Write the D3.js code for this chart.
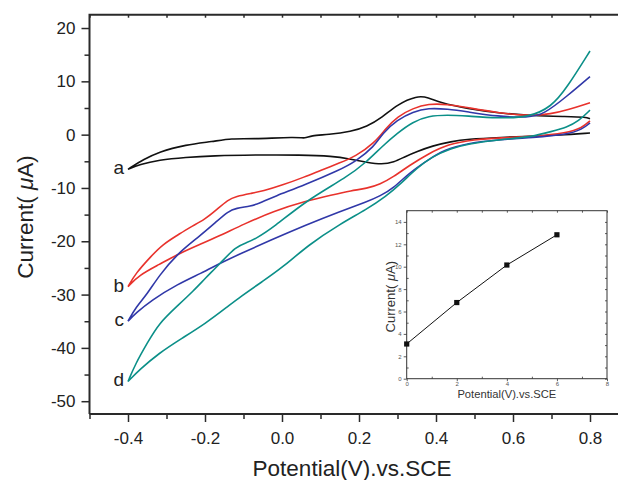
<!DOCTYPE html>
<html>
<head>
<meta charset="utf-8">
<script src="https://cdn.jsdelivr.net/npm/d3@7"></script>
<style>
  body { margin: 0; background: #fff; }
  svg { display: block; font-family: "Liberation Sans", Arial, sans-serif; }
</style>
</head>
<body>
<div id="chart"></div>
<script>
// CV loops: cathodic branch 0.8 -> -0.4, then anodic branch -0.4 -> 0.8  [potential V, current uA]
const cvA = [[0.8,0.3],[0.72,-0.1],[0.65,-0.3],[0.57,-0.5],[0.48,-0.85],[0.44,-1.3],[0.39,-2.1],[0.35,-3.2],[0.32,-4.1],[0.29,-5.2],[0.26,-5.6],[0.22,-5.2],[0.18,-4.6],[0.13,-4.0],[0.05,-3.8],[-0.07,-3.8],[-0.18,-3.95],[-0.25,-4.25],[-0.32,-4.75],[-0.37,-5.6],[-0.4,-6.5],
  [-0.39,-6.0],[-0.36,-4.7],[-0.32,-3.2],[-0.25,-1.9],[-0.18,-1.3],[-0.13,-0.7],[-0.08,-0.85],[0.04,-0.4],[0.06,-0.75],[0.075,-0.15],[0.12,0.0],[0.18,0.6],[0.22,1.5],[0.26,3.2],[0.3,5.7],[0.35,7.3],[0.38,7.0],[0.41,6.0],[0.48,4.9],[0.57,4.0],[0.65,3.55],[0.74,3.4],[0.79,3.3],[0.8,3.0]];
const cvB = [[0.8,2.6],[0.78,1.3],[0.74,0.3],[0.65,-0.35],[0.57,-0.6],[0.5,-0.9],[0.43,-1.8],[0.38,-3.6],[0.33,-5.8],[0.29,-7.9],[0.255,-9.3],[0.22,-10.1],[0.18,-10.5],[0.13,-11.3],[0.06,-12.5],[-0.02,-14.3],[-0.1,-16.8],[-0.16,-18.9],[-0.22,-20.8],[-0.27,-22.4],[-0.32,-24.4],[-0.37,-26.3],[-0.4,-28.5],
  [-0.38,-26.0],[-0.34,-22.8],[-0.31,-20.6],[-0.27,-18.8],[-0.24,-17.4],[-0.2,-15.9],[-0.17,-14.1],[-0.14,-12.2],[-0.12,-11.6],[-0.08,-11.0],[-0.05,-10.6],[0.0,-9.5],[0.06,-7.9],[0.1,-6.7],[0.15,-5.3],[0.19,-4.1],[0.24,-1.6],[0.27,1.2],[0.3,3.4],[0.34,4.95],[0.38,5.8],[0.43,5.7],[0.48,5.1],[0.56,4.1],[0.64,3.5],[0.7,3.9],[0.74,4.6],[0.8,6.0]];
const cvC = [[0.8,2.2],[0.78,1.0],[0.74,0.0],[0.65,-0.55],[0.57,-0.9],[0.48,-1.6],[0.42,-2.9],[0.38,-4.7],[0.33,-7.2],[0.29,-10.0],[0.255,-11.5],[0.22,-12.6],[0.15,-14.4],[0.06,-17.0],[-0.03,-19.8],[-0.11,-22.4],[-0.16,-24.1],[-0.21,-26.0],[-0.27,-28.0],[-0.34,-31.1],[-0.38,-33.5],[-0.4,-35.0],
  [-0.38,-32.4],[-0.35,-29.9],[-0.32,-26.5],[-0.27,-22.2],[-0.22,-19.4],[-0.17,-16.3],[-0.14,-14.4],[-0.12,-13.8],[-0.08,-13.4],[-0.06,-12.9],[-0.02,-11.6],[0.06,-9.4],[0.15,-6.6],[0.19,-5.1],[0.24,-2.2],[0.26,0.2],[0.3,2.8],[0.34,4.3],[0.38,5.0],[0.43,4.8],[0.48,4.3],[0.56,3.4],[0.64,3.2],[0.68,3.8],[0.74,7.2],[0.8,10.9]];
const cvD = [[0.8,4.6],[0.77,2.5],[0.74,1.4],[0.7,0.6],[0.65,-0.4],[0.57,-0.9],[0.48,-1.75],[0.44,-2.6],[0.39,-4.1],[0.35,-6.3],[0.31,-9.1],[0.27,-11.6],[0.22,-14.0],[0.15,-16.8],[0.07,-20.6],[0.0,-25.0],[-0.05,-27.5],[-0.11,-30.5],[-0.14,-32.2],[-0.2,-35.5],[-0.26,-38.2],[-0.32,-41.0],[-0.37,-44.1],[-0.4,-46.3],
  [-0.38,-42.9],[-0.35,-39.1],[-0.32,-35.4],[-0.27,-32.0],[-0.23,-29.3],[-0.2,-27.0],[-0.16,-24.1],[-0.12,-21.0],[-0.09,-20.2],[-0.07,-19.6],[-0.02,-17.3],[0.06,-12.5],[0.17,-7.9],[0.22,-5.1],[0.26,-2.2],[0.3,0.3],[0.34,2.4],[0.38,3.5],[0.43,3.7],[0.48,3.5],[0.56,3.1],[0.64,3.2],[0.7,5.2],[0.74,8.8],[0.8,15.7]];

const curveNames = ["a", "b", "c", "d"];
const curveColors = ["#111111", "#e8322c", "#3038a8", "#0b8f88"];

const xTicks = [-0.4, -0.2, 0.0, 0.2, 0.4, 0.6, 0.8];
const xMinor = [-0.5, -0.3, -0.1, 0.1, 0.3, 0.5, 0.7];
const yTicks = [20, 10, 0, -10, -20, -30, -40, -50];
const yMinor = [15, 5, -5, -15, -25, -35, -45];

// inset: peak current vs value
const insetX = [0, 2, 4, 6];
const insetY = [3.1, 6.8, 10.15, 12.85];
const insetXTicks = [0, 2, 4, 6, 8];
const insetXMinor = [1, 3, 5, 7];
const insetYTicks = [0, 2, 4, 6, 8, 10, 12, 14];
const insetYMinor = [1, 3, 5, 7, 9, 11, 13];

const svg = d3.select("#chart").append("svg").attr("width", 618).attr("height", 480);

const x = d3.scaleLinear().domain([-0.5, 0.9]).range([89.5, 628.5]);
const y = d3.scaleLinear().domain([-52.4, 22.5]).range([414, 14.7]);

const axisColor = "#2a2a2a";

// the turning point at -0.4 V stays sharp: repeat it so the B-spline passes through it
function withSharpTip(loop) {
  const i = d3.leastIndex(loop, p => p[0]);
  return loop.slice(0, i).concat([loop[i], loop[i], loop[i]], loop.slice(i + 1));
}

const line = d3.line().x(d => x(d[0])).y(d => y(d[1])).curve(d3.curveBasis);
const loops = [cvA, cvB, cvC, cvD];
svg.append("g").selectAll("path").data(loops).join("path")
  .attr("d", d => line(withSharpTip(d)))
  .attr("fill", "none")
  .attr("stroke", (d, i) => curveColors[i])
  .attr("stroke-width", 1.6);

// labels at the -0.4 V tip of each loop
svg.append("g").selectAll("text").data(loops).join("text")
  .attr("x", d => x(d3.least(d, p => p[0])[0]) - 4)
  .attr("y", d => y(d3.least(d, p => p[0])[1]) + 5)
  .attr("text-anchor", "end")
  .attr("font-size", 19)
  .attr("fill", "#222")
  .text((d, i) => curveNames[i]);

// axes
function styleAxis(g) {
  g.selectAll("line").attr("stroke", axisColor).attr("stroke-width", 1.5);
  g.selectAll("path").remove();
}
const x0 = y.range()[0], y0 = x.range()[0];

svg.append("g").attr("transform", `translate(0,${x0})`)
  .call(d3.axisBottom(x).tickValues(xTicks).tickSize(8).tickPadding(10).tickFormat(d => d.toFixed(1)))
  .call(styleAxis)
  .call(g => g.selectAll("text").attr("font-size", 17).attr("fill", "#222").attr("font-family", null));
svg.append("g").attr("transform", `translate(0,${x0})`)
  .call(d3.axisBottom(x).tickValues(xMinor).tickSize(5).tickFormat(""))
  .call(styleAxis);
svg.append("g").attr("transform", `translate(0,${y.range()[1]})`)
  .call(d3.axisBottom(x).tickValues(xTicks.concat(xMinor)).tickSize(3).tickFormat(""))
  .call(styleAxis);

svg.append("g").attr("transform", `translate(${y0},0)`)
  .call(d3.axisLeft(y).tickValues(yTicks).tickSize(8).tickPadding(6).tickFormat(d => String(d)))
  .call(styleAxis)
  .call(g => g.selectAll("text").attr("font-size", 17).attr("fill", "#222").attr("font-family", null));
svg.append("g").attr("transform", `translate(${y0},0)`)
  .call(d3.axisLeft(y).tickValues(yMinor).tickSize(5).tickFormat(""))
  .call(styleAxis);

// frame lines (right side falls outside the window)
svg.append("path")
  .attr("d", `M${y0},${x0}H${x.range()[1]}M${y0},${x0}V${y.range()[1]}H${x.range()[1]}`)
  .attr("fill", "none").attr("stroke", axisColor).attr("stroke-width", 2);

// axis titles
svg.append("text")
  .attr("x", 352).attr("y", 476)
  .attr("text-anchor", "middle").attr("font-size", 22.5).attr("fill", "#222")
  .text("Potential(V).vs.SCE");
const yTitle = svg.append("text")
  .attr("transform", "translate(33,217) rotate(-90)")
  .attr("text-anchor", "middle").attr("font-size", 22.5).attr("fill", "#222");
yTitle.append("tspan").text("Current( ");
yTitle.append("tspan").attr("font-style", "italic").text("\u03bc");
yTitle.append("tspan").text("A)");

// inset
const ix = d3.scaleLinear().domain([0, 8]).range([406.7, 607]);
const iy = d3.scaleLinear().domain([0, 15]).range([378.7, 210.7]);
const inset = svg.append("g");
inset.append("rect")
  .attr("x", ix(0)).attr("y", iy(15))
  .attr("width", ix(8) - ix(0)).attr("height", iy(0) - iy(15))
  .attr("fill", "#fff").attr("stroke", "#333").attr("stroke-width", 1);

function styleInset(g) {
  g.selectAll("line").attr("stroke", "#333").attr("stroke-width", 0.8);
  g.selectAll("path").remove();
  g.selectAll("text").attr("font-size", 6).attr("fill", "#555").attr("font-family", null);
}
inset.append("g").attr("transform", `translate(0,${iy(0)})`)
  .call(d3.axisBottom(ix).tickValues(insetXTicks).tickSize(2.5).tickPadding(1)).call(styleInset);
inset.append("g").attr("transform", `translate(0,${iy(0)})`)
  .call(d3.axisTop(ix).tickValues(insetXMinor).tickSize(2).tickFormat("")).call(styleInset);
inset.append("g").attr("transform", `translate(0,${iy(15)})`)
  .call(d3.axisBottom(ix).tickValues(insetXTicks.concat(insetXMinor)).tickSize(2).tickFormat("")).call(styleInset);
inset.append("g").attr("transform", `translate(${ix(0)},0)`)
  .call(d3.axisLeft(iy).tickValues(insetYTicks).tickSize(3).tickPadding(2)).call(styleInset);
inset.append("g").attr("transform", `translate(${ix(0)},0)`)
  .call(d3.axisRight(iy).tickValues(insetYMinor).tickSize(2).tickFormat("")).call(styleInset);
inset.append("g").attr("transform", `translate(${ix(8)},0)`)
  .call(d3.axisLeft(iy).tickValues(insetYTicks.concat(insetYMinor)).tickSize(2).tickFormat("")).call(styleInset);

const pts = insetX.map((v, i) => [v, insetY[i]]);
inset.append("path")
  .attr("d", d3.line().x(d => ix(d[0])).y(d => iy(d[1]))(pts))
  .attr("fill", "none").attr("stroke", "#111").attr("stroke-width", 1);
inset.selectAll("rect.pt").data(pts).join("rect")
  .attr("class", "pt")
  .attr("x", d => ix(d[0]) - 2.6).attr("y", d => iy(d[1]) - 2.6)
  .attr("width", 5.2).attr("height", 5.2).attr("fill", "#111");

inset.append("text")
  .attr("x", (ix(0) + ix(8)) / 2).attr("y", 397.5)
  .attr("text-anchor", "middle").attr("font-size", 11.2).attr("fill", "#333")
  .text("Potential(V).vs.SCE");
const iyTitle = inset.append("text")
  .attr("transform", `translate(395,${(iy(0) + iy(15)) / 2 + 2}) rotate(-90)`)
  .attr("text-anchor", "middle").attr("font-size", 13).attr("fill", "#333");
iyTitle.append("tspan").text("Current( ");
iyTitle.append("tspan").attr("font-style", "italic").text("\u03bc");
iyTitle.append("tspan").text("A)");
</script>
</body>
</html>
